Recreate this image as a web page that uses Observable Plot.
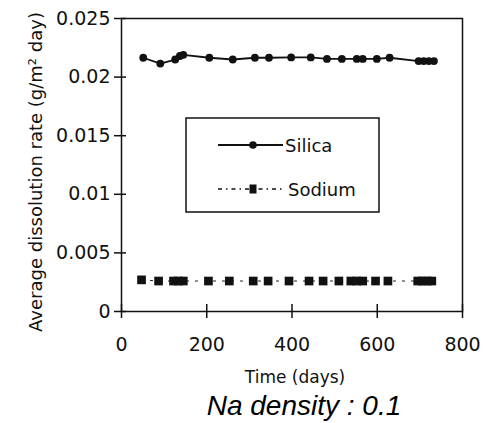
<!DOCTYPE html>
<html>
<head>
<meta charset="utf-8">
<script src="https://cdn.jsdelivr.net/npm/d3@7"></script>
<script src="https://cdn.jsdelivr.net/npm/@observablehq/plot@0.6"></script>
<style>
  html, body { margin: 0; padding: 0; background: #fff; }
  #chart { position: relative; width: 495px; height: 423px; }
</style>
</head>
<body>
<div id="chart"></div>
<script>
// Data
const silicaDays  = [51, 91, 126, 137, 145, 206, 261, 313, 346, 398, 444, 482, 517, 552, 566, 599, 629, 697, 709, 721, 733];
const silicaRates = [0.02165, 0.02115, 0.0215, 0.0218, 0.0219, 0.02165, 0.0215, 0.02165, 0.02165, 0.02168, 0.02168, 0.02155, 0.02155, 0.02155, 0.02155, 0.02155, 0.02165, 0.02137, 0.02137, 0.02137, 0.02137];
const sodiumDays  = [47, 87, 122, 133, 145, 204, 253, 309, 344, 393, 440, 473, 510, 538, 552, 566, 596, 625, 695, 706, 717, 728];
const sodiumRates = [0.0027, 0.0026, 0.0026, 0.0026, 0.0026, 0.0026, 0.0026, 0.0026, 0.0026, 0.0026, 0.0026, 0.0026, 0.0026, 0.0026, 0.0026, 0.0026, 0.0026, 0.0026, 0.0026, 0.0026, 0.0026, 0.0026];
const xTicks = [0, 200, 400, 600, 800];
const yTicks = [0, 0.005, 0.01, 0.015, 0.02, 0.025];
const yTickLabels = ["0", "0.005", "0.01", "0.015", "0.02", "0.025"];
const seriesNames = ["Silica", "Sodium"];
const yLabel = "Average dissolution rate (g/m\u00B2 day)";
const xLabel = "Time (days)";
const caption = "Na density : 0.1";

const silica = silicaDays.map((d, i) => ({day: d, rate: silicaRates[i]}));
const sodium = sodiumDays.map((d, i) => ({day: d, rate: sodiumRates[i]}));

const ink = "#111";
const font = "DejaVu Sans";

const plot = Plot.plot({
  width: 495,
  height: 423,
  marginLeft: 121,
  marginRight: 33,
  marginTop: 18,
  marginBottom: 112,
  style: {fontFamily: font, fontSize: "19px", color: ink, background: "#fff"},
  x: {domain: [0, 800]},
  y: {domain: [0, 0.025]},
  marks: [
    Plot.frame({stroke: ink, strokeWidth: 1.5}),
    Plot.axisY({ticks: yTicks, tickSize: 7, tickPadding: 4, strokeWidth: 1.5,
      tickFormat: (d) => yTickLabels[yTicks.indexOf(d)], label: null}),
    Plot.axisY({ticks: yTicks, tickSize: 5, dx: 5, strokeWidth: 1.5, tickFormat: () => "", label: null}),
    Plot.axisX({ticks: xTicks, tickSize: 7, tickPadding: 19, strokeWidth: 1.5, label: null}),
    Plot.axisX({ticks: xTicks, tickSize: 7, dy: -7, strokeWidth: 1.5, tickFormat: () => "", label: null}),
    Plot.line(sodium, {x: "day", y: "rate", stroke: ink, strokeWidth: 1, strokeDasharray: "2,7"}),
    Plot.dot(sodium, {x: "day", y: "rate", symbol: "square", r: 4.9, fill: ink, stroke: "none"}),
    Plot.line(silica, {x: "day", y: "rate", stroke: ink, strokeWidth: 1.8}),
    Plot.dot(silica, {x: "day", y: "rate", r: 3.9, fill: ink, stroke: "none"})
  ]
});

document.getElementById("chart").appendChild(plot);

const svg = d3.select(plot);

// Axis titles and caption
svg.append("text")
  .attr("transform", "translate(37,172) rotate(-90)")
  .attr("text-anchor", "middle")
  .attr("dominant-baseline", "middle")
  .attr("font-family", font).attr("font-size", 18).attr("fill", ink)
  .text(yLabel);

svg.append("text")
  .attr("x", 295).attr("y", 383)
  .attr("text-anchor", "middle")
  .attr("font-family", font).attr("font-size", 17).attr("fill", ink)
  .text(xLabel);

svg.append("text")
  .attr("x", 304).attr("y", 415)
  .attr("text-anchor", "middle")
  .attr("font-family", "Liberation Sans, Arial, sans-serif")
  .attr("font-style", "italic")
  .attr("font-size", 28).attr("fill", "#000")
  .text(caption);

// Legend
const lg = svg.append("g").attr("text-anchor", "start");
lg.append("rect").attr("x", 186).attr("y", 118).attr("width", 193).attr("height", 94)
  .attr("fill", "#fff").attr("stroke", ink).attr("stroke-width", 1.5);
lg.append("line").attr("x1", 218).attr("x2", 283).attr("y1", 145).attr("y2", 145)
  .attr("stroke", ink).attr("stroke-width", 1.8);
lg.append("circle").attr("cx", 253).attr("cy", 145).attr("r", 3.8).attr("fill", ink);
lg.append("text").attr("x", 285).attr("y", 152).attr("text-anchor", "start")
  .attr("font-family", font).attr("font-size", 18).attr("fill", ink).text(seriesNames[0]);
lg.append("line").attr("x1", 218).attr("x2", 283).attr("y1", 189).attr("y2", 189)
  .attr("stroke", ink).attr("stroke-width", 1.3).attr("stroke-dasharray", "4,4,1.5,4");
lg.append("rect").attr("x", 249.5).attr("y", 184.5).attr("width", 7).attr("height", 9).attr("fill", ink);
lg.append("text").attr("x", 288).attr("y", 196).attr("text-anchor", "start")
  .attr("font-family", font).attr("font-size", 18).attr("fill", ink).text(seriesNames[1]);
</script>
</body>
</html>
